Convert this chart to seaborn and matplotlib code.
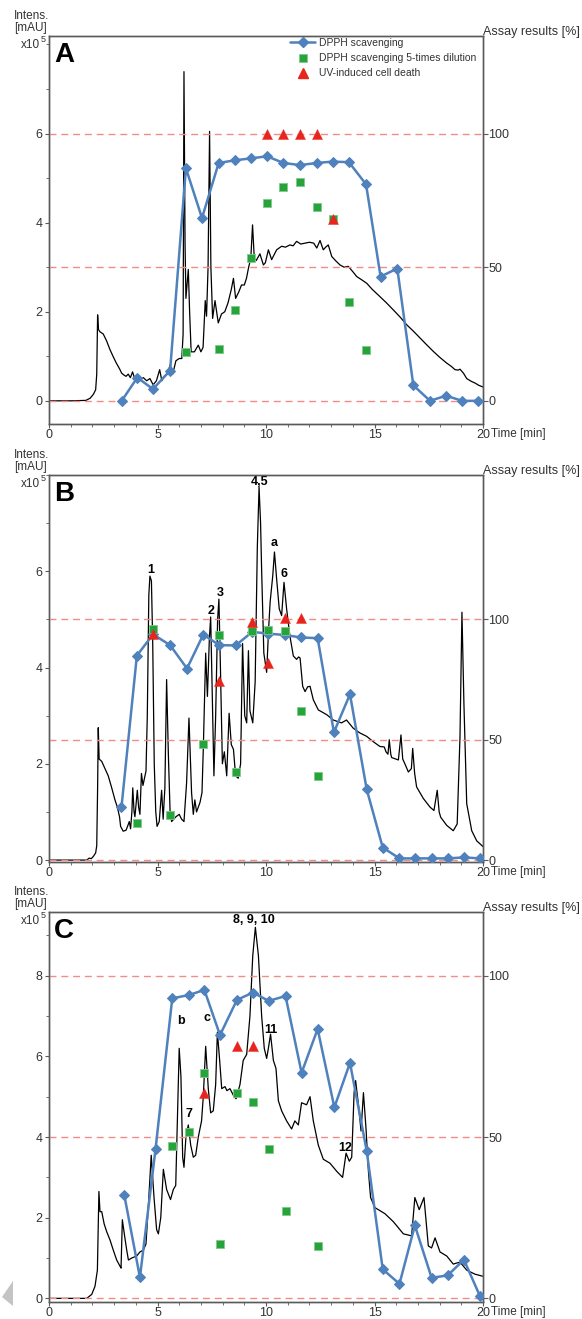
import numpy as np
import pandas as pd
import matplotlib
matplotlib.use("Agg")
import matplotlib.pyplot as plt
import seaborn as sns
from matplotlib.ticker import MultipleLocator, FixedLocator
from matplotlib.lines import Line2D
from matplotlib.patches import Polygon

# ---------------- DATA ----------------
# Panel A
A_frac_t = [3.35, 4.07, 4.79, 5.58, 6.31, 7.05, 7.82, 8.57, 9.29, 10.05, 10.8, 11.57,
            12.34, 13.07, 13.82, 14.61, 15.28, 16.05, 16.79, 17.56, 18.29, 19.05, 19.79]
A_dpph = [0, 8.7, 4.4, 11.3, 87, 68.4, 89, 90, 90.7, 91.5, 89, 88.2,
          89, 89.5, 89.3, 81, 46.5, 49.5, 5.8, 0, 1.9, 0, 0]
A_dil_t = [6.31, 7.82, 8.57, 9.29, 10.05, 10.8, 11.57, 12.34, 13.07, 13.82, 14.61]
A_dil = [18.3, 19.5, 34.1, 53.5, 74.2, 80.0, 81.8, 72.4, 68.0, 36.8, 19.1]
A_uv_t = [10.05, 10.8, 11.57, 12.34, 13.07]
A_uv = [100, 100, 100, 100, 68]
A_chrom = [(0, 0), (1.0, 0), (1.7, 0.01), (1.9, 0.06), (2.05, 0.15), (2.15, 0.25), (2.2, 0.6),
           (2.24, 1.93), (2.28, 1.6), (2.35, 1.55), (2.5, 1.5), (2.65, 1.35), (2.81, 1.15),
           (2.95, 1.0), (3.1, 0.85), (3.25, 0.72), (3.35, 0.62), (3.45, 0.58), (3.55, 0.55),
           (3.65, 0.6), (3.75, 0.52), (3.85, 0.65), (3.95, 0.5), (4.05, 0.55), (4.2, 0.48),
           (4.35, 0.52), (4.5, 0.45), (4.65, 0.5), (4.8, 0.36), (4.95, 0.45), (5.1, 0.7),
           (5.2, 0.45), (5.3, 0.55), (5.45, 0.6), (5.58, 0.8), (5.7, 0.6), (5.85, 0.9),
           (6.0, 0.95), (6.12, 0.95), (6.18, 1.5), (6.22, 7.39), (6.27, 3.5), (6.31, 2.3),
           (6.36, 2.6), (6.42, 2.95), (6.48, 2.0), (6.55, 1.1), (6.7, 1.1), (6.88, 1.25),
           (7.0, 1.1), (7.1, 1.2), (7.2, 2.25), (7.26, 1.9), (7.33, 3.0), (7.4, 6.05),
           (7.46, 3.0), (7.54, 1.85), (7.65, 2.25), (7.8, 1.75), (7.95, 1.95), (8.1, 2.0),
           (8.25, 2.2), (8.4, 2.5), (8.5, 2.75), (8.6, 2.3), (8.75, 2.45), (8.87, 2.6),
           (9.0, 2.6), (9.1, 2.75), (9.2, 3.0), (9.3, 3.2), (9.38, 3.95), (9.46, 3.2),
           (9.55, 3.15), (9.72, 3.3), (9.88, 3.05), (9.97, 3.1), (10.11, 3.39), (10.26, 3.17),
           (10.49, 3.39), (10.72, 3.47), (10.9, 3.45), (11.1, 3.5), (11.25, 3.48), (11.41, 3.58),
           (11.6, 3.52), (11.8, 3.54), (12.0, 3.56), (12.2, 3.54), (12.34, 3.43), (12.49, 3.6),
           (12.64, 3.39), (12.75, 3.45), (12.87, 3.5), (13.03, 3.24), (13.2, 3.15), (13.41, 3.05),
           (13.6, 3.0), (13.79, 3.02), (14.0, 2.9), (14.18, 2.79), (14.4, 2.72), (14.64, 2.64),
           (14.9, 2.5), (15.25, 2.34), (15.55, 2.2), (15.87, 2.04), (16.2, 1.87), (16.48, 1.71),
           (16.8, 1.56), (17.1, 1.41), (17.4, 1.26), (17.71, 1.11), (18.0, 0.98), (18.32, 0.85),
           (18.55, 0.77), (18.71, 0.7), (18.85, 0.69), (18.94, 0.71), (19.1, 0.62), (19.25, 0.5),
           (19.45, 0.44), (19.63, 0.4), (19.8, 0.35), (20.0, 0.31)]

# Panel B
B_frac_t = [3.34, 4.05, 4.8, 5.58, 6.36, 7.11, 7.85, 8.6, 9.37, 10.11, 10.87, 11.61,
            12.38, 13.13, 13.87, 14.64, 15.38, 16.15, 16.86, 17.63, 18.37, 19.12, 19.86]
B_dpph = [22.0, 85.0, 93.8, 89.3, 79.6, 93.7, 89.3, 89.2, 94.8, 94.1, 93.5, 92.5,
          92.2, 53.1, 68.9, 29.4, 5.2, 0.7, 0.7, 0.7, 0.7, 1.1, 0.7]
B_dil_t = [4.05, 4.8, 5.58, 7.11, 7.85, 8.6, 9.37, 10.11, 10.87, 11.61, 12.38]
B_dil = [15.6, 96.0, 18.7, 48.3, 93.6, 36.6, 95.2, 95.8, 95.0, 62.0, 34.8]
B_uv_t = [4.8, 7.85, 9.37, 10.11, 10.87, 11.61]
B_uv = [93.8, 74.6, 98.8, 81.9, 100.5, 100.5]
B_chrom = [(0, 0), (1.0, 0), (1.74, 0.0), (1.85, 0.04), (1.95, 0.03), (2.05, 0.08), (2.15, 0.15),
           (2.2, 0.3), (2.24, 1.5), (2.27, 2.75), (2.31, 2.1), (2.43, 2.05), (2.58, 1.9),
           (2.73, 1.75), (2.89, 1.5), (3.04, 1.25), (3.15, 1.1), (3.25, 0.9), (3.3, 0.7),
           (3.42, 0.6), (3.55, 0.62), (3.62, 0.7), (3.7, 0.8), (3.76, 0.65), (3.82, 1.0),
           (3.86, 1.5), (3.92, 1.0), (3.96, 0.9), (4.02, 1.2), (4.07, 1.45), (4.13, 1.1),
           (4.19, 0.95), (4.26, 1.8), (4.33, 1.55), (4.4, 1.7), (4.47, 1.85), (4.53, 3.0),
           (4.6, 5.5), (4.65, 5.9), (4.72, 5.8), (4.78, 4.5), (4.85, 2.0), (4.92, 1.0),
           (4.98, 0.7), (5.08, 0.8), (5.19, 1.45), (5.26, 0.85), (5.34, 1.5), (5.42, 3.75),
           (5.5, 2.2), (5.58, 1.0), (5.65, 0.8), (5.85, 0.9), (6.0, 0.95), (6.11, 0.85),
           (6.22, 0.8), (6.34, 1.6), (6.45, 2.95), (6.57, 1.4), (6.65, 0.95), (6.72, 1.25),
           (6.8, 1.0), (6.96, 1.2), (7.05, 1.4), (7.11, 2.3), (7.22, 4.3), (7.3, 3.4),
           (7.39, 4.6), (7.45, 5.05), (7.52, 3.5), (7.6, 1.75), (7.68, 3.0), (7.77, 5.0),
           (7.83, 5.42), (7.9, 4.0), (7.99, 2.0), (8.08, 2.25), (8.19, 1.75), (8.3, 3.05),
           (8.4, 2.4), (8.5, 2.3), (8.6, 1.75), (8.72, 1.7), (8.83, 2.0), (8.92, 4.5),
           (9.02, 3.0), (9.11, 2.85), (9.19, 4.35), (9.26, 3.1), (9.39, 2.85), (9.5, 3.7),
           (9.6, 6.5), (9.68, 7.75), (9.75, 7.0), (9.8, 6.0), (9.9, 4.3), (10.03, 3.9),
           (10.12, 4.8), (10.19, 5.36), (10.31, 5.9), (10.39, 6.4), (10.49, 5.84), (10.61, 5.22),
           (10.72, 5.08), (10.83, 5.77), (10.95, 5.22), (11.1, 4.66), (11.26, 4.24), (11.41, 4.17),
           (11.5, 4.22), (11.57, 4.2), (11.69, 3.61), (11.8, 3.5), (11.92, 3.6), (12.03, 3.61),
           (12.18, 3.33), (12.41, 3.12), (12.8, 3.02), (13.1, 2.91), (13.48, 2.85), (13.71, 2.91),
           (14.02, 2.74), (14.33, 2.64), (14.64, 2.57), (14.94, 2.46), (15.25, 2.36), (15.45, 2.35),
           (15.53, 2.25), (15.62, 2.2), (15.68, 2.5), (15.75, 2.2), (15.79, 2.13), (16.1, 2.08),
           (16.22, 2.6), (16.3, 2.1), (16.4, 2.0), (16.56, 1.83), (16.7, 1.9), (16.76, 2.32),
           (16.85, 1.8), (16.94, 1.52), (17.25, 1.28), (17.56, 1.1), (17.74, 1.03), (17.89, 1.45),
           (17.98, 1.0), (18.05, 0.89), (18.33, 0.72), (18.63, 0.61), (18.81, 0.75), (18.94, 2.57),
           (19.03, 5.15), (19.12, 3.26), (19.25, 1.17), (19.48, 0.61), (19.71, 0.4), (20.0, 0.28)]

# Panel C
C_frac_t = [3.47, 4.19, 4.91, 5.68, 6.44, 7.16, 7.88, 8.66, 9.4, 10.12, 10.9, 11.64,
            12.38, 13.15, 13.87, 14.64, 15.38, 16.15, 16.86, 17.63, 18.37, 19.12, 19.86]
C_dpph = [32.0, 6.5, 46.3, 93.0, 94.0, 95.6, 81.6, 92.5, 94.8, 92.2, 93.7, 69.9,
          83.5, 59.2, 73.0, 45.7, 9.0, 4.5, 22.6, 6.4, 7.1, 12.0, 0.7]
C_dil_t = [5.68, 6.44, 7.16, 7.88, 8.66, 9.4, 10.12, 10.9, 12.38]
C_dil = [47.2, 51.7, 69.7, 16.7, 63.5, 61.0, 46.2, 27.2, 16.3]
C_uv_t = [7.16, 8.66, 9.4]
C_uv = [63.8, 78.2, 78.2]
C_chrom = [(0, 0), (1.0, 0), (1.74, 0.0), (1.97, 0.1), (2.12, 0.3), (2.23, 0.7), (2.3, 2.65),
           (2.35, 2.15), (2.43, 2.15), (2.54, 1.85), (2.66, 1.65), (2.81, 1.45), (2.96, 1.2),
           (3.12, 0.95), (3.27, 0.8), (3.32, 0.75), (3.38, 1.95), (3.47, 1.6), (3.58, 1.2),
           (3.66, 0.95), (3.81, 1.0), (4.04, 1.05), (4.19, 1.15), (4.35, 1.2), (4.47, 1.35),
           (4.59, 2.4), (4.71, 3.55), (4.84, 2.5), (4.96, 1.7), (5.04, 1.6), (5.15, 2.0),
           (5.27, 3.2), (5.42, 2.7), (5.6, 2.45), (5.73, 2.7), (5.84, 2.8), (5.92, 4.5),
           (6.0, 6.2), (6.08, 5.5), (6.16, 3.5), (6.22, 3.25), (6.31, 4.0), (6.42, 4.3),
           (6.53, 3.8), (6.65, 3.5), (6.76, 3.55), (6.88, 4.0), (7.03, 4.4), (7.11, 5.0),
           (7.22, 6.25), (7.34, 5.2), (7.45, 4.6), (7.57, 4.65), (7.68, 5.3), (7.76, 6.6),
           (7.85, 6.0), (7.96, 5.2), (8.11, 5.25), (8.2, 5.15), (8.34, 5.2), (8.53, 5.0),
           (8.62, 4.95), (8.8, 5.3), (8.95, 5.9), (9.11, 6.05), (9.26, 7.0), (9.39, 8.5),
           (9.51, 9.2), (9.65, 8.5), (9.8, 7.0), (9.92, 6.2), (10.03, 5.95), (10.11, 6.2),
           (10.21, 6.55), (10.34, 5.9), (10.46, 5.7), (10.57, 4.9), (10.72, 4.65), (10.95, 4.4),
           (11.18, 4.2), (11.33, 4.4), (11.49, 4.3), (11.64, 4.85), (11.87, 4.8), (12.03, 5.0),
           (12.18, 4.4), (12.41, 3.8), (12.64, 3.45), (12.95, 3.35), (13.26, 3.15), (13.53, 3.0),
           (13.69, 3.6), (13.84, 3.4), (13.95, 3.5), (14.06, 5.1), (14.13, 5.4), (14.26, 4.8),
           (14.38, 4.15), (14.49, 5.1), (14.61, 4.2), (14.72, 3.15), (14.82, 2.5), (15.02, 2.25),
           (15.48, 2.1), (15.87, 1.9), (16.33, 1.6), (16.71, 1.55), (16.86, 2.5), (17.06, 2.2),
           (17.28, 2.5), (17.48, 1.3), (17.63, 1.25), (17.79, 1.5), (18.02, 1.15), (18.33, 1.05),
           (18.63, 0.85), (18.94, 0.9), (19.25, 0.7), (19.63, 0.6), (19.98, 0.55)]

# Peak labels (text, time, intensity)
B_peaks = [("1", 4.68, 6.03), ("2", 7.45, 5.17), ("3", 7.88, 5.55), ("4,5", 9.72, 7.85),
           ("a", 10.39, 6.58), ("6", 10.84, 5.95)]
C_peaks = [("b", 6.07, 6.88), ("c", 7.27, 6.94), ("7", 6.47, 4.56), ("8, 9, 10", 9.42, 9.38),
           ("11", 10.23, 6.65), ("12", 13.67, 3.74)]

legend_labels = ["DPPH scavenging", "DPPH scavenging 5-times dilution", "UV-induced cell death"]

# ---------------- STYLE ----------------
sns.set_theme(style="white")
plt.rcParams["font.family"] = ["Liberation Sans", "DejaVu Sans"]
plt.rcParams["axes.linewidth"] = 1.0

BLUE = "#4F81BD"
GREEN = "#27A33C"
RED = "#E8241D"
DASH = "#F28C86"
SPINE = "#5A5A5A"
TXT = "#333333"

W, H = 582, 1319
fig = plt.figure(figsize=(W / 100, H / 100), dpi=100)


def fx(x):
    return x / W


def fy(y):
    return 1 - y / H


panels = [
    dict(letter="A", box=(49, 36, 483, 424), ylim=(-0.52, 8.19), scale=6, yticks=[0, 2, 4, 6],
         chrom=A_chrom, ft=A_frac_t, dpph=A_dpph, dt=A_dil_t, dil=A_dil, ut=A_uv_t, uv=A_uv,
         dashes=[0, 50, 100], peaks=[]),
    dict(letter="B", box=(49, 475, 483, 862), ylim=(-0.04, 8.0), scale=5, yticks=[0, 2, 4, 6],
         chrom=B_chrom, ft=B_frac_t, dpph=B_dpph, dt=B_dil_t, dil=B_dil, ut=B_uv_t, uv=B_uv,
         dashes=[0, 50, 100], peaks=B_peaks),
    dict(letter="C", box=(49, 912, 483, 1302), ylim=(-0.09, 9.58), scale=8, yticks=[0, 2, 4, 6, 8],
         chrom=C_chrom, ft=C_frac_t, dpph=C_dpph, dt=C_dil_t, dil=C_dil, ut=C_uv_t, uv=C_uv,
         dashes=[0, 50, 100], peaks=C_peaks),
]

for i, p in enumerate(panels):
    l, t, r, b = p["box"]
    ax = fig.add_axes([fx(l), fy(b), (r - l) / W, (b - t) / H])
    df = pd.DataFrame(p["chrom"], columns=["time", "intens"])
    sns.lineplot(data=df, x="time", y="intens", ax=ax, color="black", lw=0.9,
                 estimator=None, sort=False)
    ax.set_xlim(0, 20)
    ax.set_ylim(*p["ylim"])
    ax.set_xlabel("")
    ax.set_ylabel("")
    ax.xaxis.set_major_locator(FixedLocator([0, 5, 10, 15, 20]))
    ax.xaxis.set_minor_locator(MultipleLocator(1))
    ax.yaxis.set_major_locator(FixedLocator(p["yticks"]))
    ax.yaxis.set_minor_locator(MultipleLocator(1))
    ax.tick_params(axis="both", which="major", direction="out", length=3, width=0.8,
                   color=SPINE, labelsize=9, labelcolor=TXT, pad=1.5, left=True, bottom=True)
    ax.tick_params(axis="both", which="minor", direction="out", length=2, width=0.6,
                   color=SPINE, left=True, bottom=True)
    ax.tick_params(axis="x", pad=0.5)
    for s in ax.spines.values():
        s.set_color(SPINE)
        s.set_linewidth(1.0)

    ax2 = ax.twinx()
    lo, hi = p["ylim"]
    ax2.set_ylim(lo * 100 / p["scale"], hi * 100 / p["scale"])
    for lev in p["dashes"]:
        ax2.axhline(lev, color=DASH, lw=1.0, ls=(0, (5, 3.5)), zorder=1)
    sns.lineplot(x=p["ft"], y=p["dpph"], ax=ax2, color=BLUE, lw=1.8, marker="D",
                 markersize=5.5, markeredgecolor=BLUE, zorder=3, estimator=None)
    sns.scatterplot(x=p["dt"], y=p["dil"], ax=ax2, marker="s", s=36, color=GREEN,
                    edgecolor="#7FCB8A", linewidth=0.6, zorder=4)
    sns.scatterplot(x=p["ut"], y=p["uv"], ax=ax2, marker="^", s=52, color=RED,
                    edgecolor=RED, linewidth=0.3, zorder=5)
    ax2.set_ylabel("")
    ax2.yaxis.set_major_locator(FixedLocator([0, 50, 100]))
    ax2.tick_params(axis="y", which="major", direction="out", length=3.5, width=0.8,
                    color=SPINE, labelsize=9, labelcolor=TXT, pad=0.5, right=True)
    for s in ax2.spines.values():
        s.set_color(SPINE)
        s.set_linewidth(1.0)

    # peak labels
    for txt, x, y in p["peaks"]:
        ax.text(x, y, txt, ha="center", va="center", fontsize=9, fontweight="bold",
                color="black", zorder=6)

    # panel letter
    fig.text(fx(54), fy(t + 26), p["letter"], fontsize=20, fontweight="bold",
             ha="left", va="baseline", color="black")

    # axis titles
    fig.text(fx(14), fy(t - 20), "Intens.", fontsize=8.5, ha="left", va="center", color=TXT)
    fig.text(fx(14), fy(t - 8), "[mAU]", fontsize=8.5, ha="left", va="center", color=TXT)
    fig.text(fx(40), fy(t + 9), "x10", fontsize=8.5, ha="right", va="center", color=TXT)
    fig.text(fx(40.5), fy(t + 3.5), "5", fontsize=6.5, ha="left", va="center", color=TXT)
    fig.text(fx(483), fy(t - 4), "Assay results [%]", fontsize=9, ha="left", va="center",
             color=TXT)
    fig.text(fx(491), fy(b + 10), "Time [min]", fontsize=8.5, ha="left", va="center",
             color=TXT)

    if i == 0:
        handles = [
            Line2D([], [], color=BLUE, lw=1.8, marker="D", markersize=5, markeredgecolor=BLUE),
            Line2D([], [], color=GREEN, lw=0, marker="s", markersize=6,
                   markeredgecolor="#7FCB8A", markeredgewidth=0.6),
            Line2D([], [], color=RED, lw=0, marker="^", markersize=7),
        ]
        leg = ax2.legend(handles, legend_labels, loc="upper left",
                         bbox_to_anchor=((290 - l) / (r - l), 1 - (38 - t) / (b - t)),
                         frameon=False, fontsize=7.5, handlelength=2.4, handletextpad=0.35,
                         labelspacing=0.5, borderpad=0, borderaxespad=0)
        for txt in leg.get_texts():
            txt.set_color(TXT)

# small grey triangle artifact at bottom-left
fig.add_artist(Polygon([(fx(13), fy(1281)), (fx(13), fy(1306)), (fx(2), fy(1297))],
                       closed=True, transform=fig.transFigure, facecolor="#C4C4C4",
                       edgecolor="none"))

fig.savefig("out.png", dpi=100)
